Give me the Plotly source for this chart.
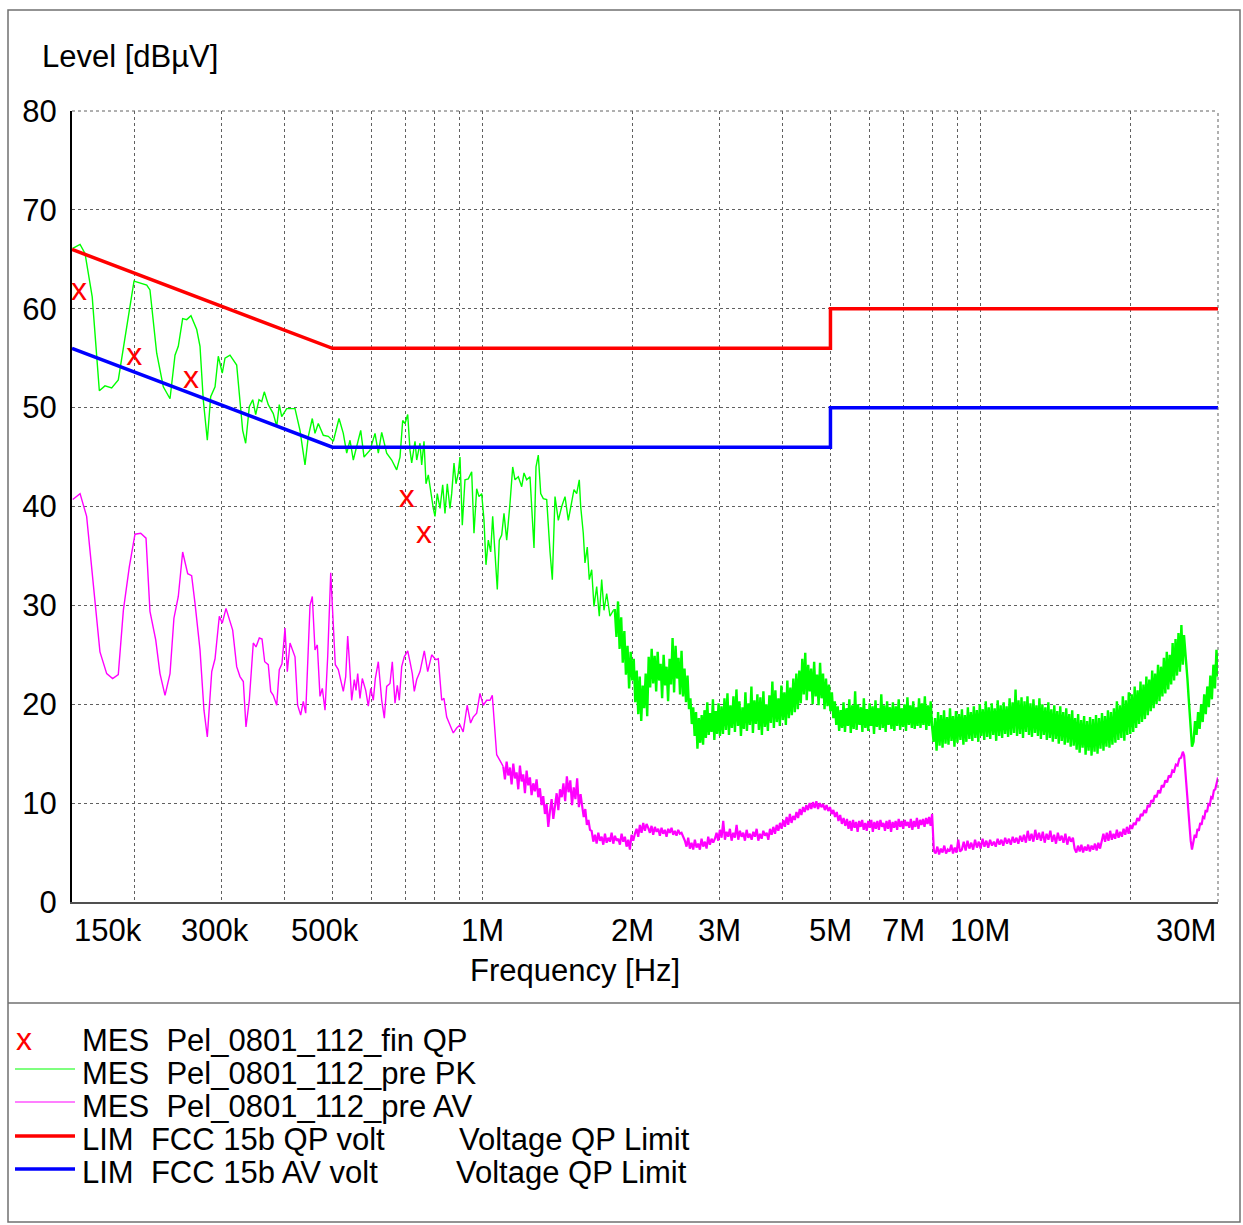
import numpy as np
import plotly.graph_objects as go

# ---------------- DATA ----------------
# Peak (PK) pre-scan, low-frequency part: frequency [kHz] / level [dBuV]
pk_lf_khz = [150.5,155.7,159.3,164.7,170.2,174.7,180.2,185.8,199.8,207.0,
             211.9,215.1,221.9,228.8,236.0,241.5,245.2,250.2,254.9,260.0,
             267.0,271.1,275.2,280.4,284.8,290.6,295.0,300.5,304.3,311.4,
             321.2,330.2,334.8,340.5,345.9,350.7,356.1,360.6,364.9,371.7,
             380.4,386.5,391.1,395.5,404.7,420.6,430.4,440.5,447.3,455.6,
             461.3,468.4,479.4,490.6,502.1,515.5,525.8,534.2,542.4,550.7,
             559.5,569.9,578.7,594.9,608.9,618.2,628.0,642.6,657.7,673.0,
             683.4,692.0,699.4,708.2,715.7,721.4,732.5,738.3,749.6,755.5,
             763.6,770.7,778.9,787.6,797.1,803.4,812.0,822.2,832.5,841.4,
             850.4,861.1,867.9,877.2,885.3,894.8,901.8,911.5,922.9,937.1,
             951.9,962.1,974.2,984.6,997.0,1007.7,1017.0,1027.9,1039.4,1049.0,
             1060.2,1071.6,1081.5,1093.6,1105.3,1119.2,1136.4,1150.7,1163.0,1180.9,
             1199.6,1212.4,1227.6,1246.5,1269.8,1281.6,1295.3,1309.8,1325.6,1346.6,
             1367.4,1382.0,1399.3,1420.9,1443.4,1465.6,1487.9,1511.5,1527.6,1546.8,
             1565.5,1575.7,1594.7,1607.3,1624.5,1639.6,1657.9,1675.6,1696.7,1717.2,
             1736.3,1754.9,1776.9,1804.3,1832.0]
pk_lf_level = [66.1,66.5,65.6,61.2,51.7,52.2,52.0,52.8,62.8,62.6,
               62.4,61.9,55.5,52.1,50.9,55.3,56.2,59.0,58.9,59.3,
               57.9,56.2,50.8,46.7,51.1,52.1,55.2,53.5,55.0,55.3,
               54.3,47.7,46.4,50.1,50.8,49.3,50.8,50.6,51.6,50.3,
               49.4,48.1,50.3,49.1,49.9,49.9,47.7,44.2,47.1,48.9,
               47.4,48.4,47.2,47.1,46.6,48.9,47.4,45.4,46.7,44.7,
               46.0,47.7,45.0,45.7,47.4,45.4,47.5,45.4,44.7,43.7,
               45.0,48.7,48.4,49.3,45.7,44.4,46.6,44.7,46.4,44.2,
               46.6,42.3,43.2,41.3,39.8,39.0,41.3,39.8,42.2,39.3,
               42.3,39.8,41.3,44.4,42.3,43.4,45.0,38.1,42.7,42.8,
               43.5,37.3,41.8,41.0,41.3,38.6,34.1,36.6,35.4,39.0,
               35.3,31.6,36.6,37.1,39.3,36.6,40.3,44.0,42.7,43.0,
               42.0,43.4,42.7,43.0,35.8,44.0,45.2,41.3,40.8,40.7,
               35.4,32.6,41.0,38.6,40.0,41.0,38.6,40.3,41.7,41.3,
               42.7,40.0,37.3,34.3,35.9,32.6,33.6,29.9,31.9,28.9,
               32.6,29.5,31.2,28.9,29.5]

# PK dense sweep: segment edges [kHz] and the levels read inside each segment
pk_seg_edges_khz = [1832, 2000, 2600, 3000, 4300, 5000, 8000, 20000, 25500, 26600, 30000]
pk_seg_1 = [29.5,26.8,30.4,25.6,28.8,24.2,27.4,23.0,25.9,21.6,25.3,22.4]
pk_seg_2 = [24.6,20.2,23.4,19.0,22.8,18.3,21.9,19.6,23.1,18.8,24.8,21.7,25.6,22.1,24.9,21.3,
            25.3,22.4,24.1,20.6,25.0,21.9,23.8,20.3,24.6,22.0,26.7,21.2,25.9,22.6,24.7,21.0,
            25.4,20.8,23.6,20.2,22.9,19.5]
pk_seg_3 = [20.6,18.0,19.7,16.8,19.2,15.5,18.6,16.1,18.9,15.9,19.4,16.6,20.2,16.9,19.1,17.2,
            20.5,16.4,19.3,17.0,20.1,16.8]
pk_seg_4 = [19.8,17.0,20.6,17.4,21.1,16.9,19.9,17.6,20.8,17.2,21.5,17.8,20.3,16.8,19.7,17.5,
            21.2,17.3,20.1,17.9,21.8,17.1,20.4,18.0,21.0,17.4,20.7,16.9,21.3,17.7,20.0,17.3,
            20.9,18.1,22.3,17.6,21.4,18.2,20.6,17.8,21.9,18.4,21.2,17.9,22.4,18.6,21.7,18.9,
            22.6,19.2,23.1,19.5]
pk_seg_5 = [23.4,20.1,24.6,21.0,25.2,20.4,24.0,21.3,23.6,20.0,24.3,20.8,23.0,19.9,24.2,20.6,
            23.1,19.5,22.6,19.8,22.0,19.3]
pk_seg_6 = [21.2,18.6,20.3,17.9,19.8,17.3,19.4,17.6,20.2,17.2,19.6,17.8,20.5,17.1,19.9,17.5,
            21.3,17.4,20.0,17.9,19.7,17.2,20.6,17.6,19.5,17.3,20.1,17.8,19.8,17.0,20.4,17.7,
            19.6,17.4,21.0,17.6,19.9,17.2,20.3,17.9,19.7,17.5,20.2,17.3,19.8,17.8,20.5,17.4,
            19.6,17.7,20.0,17.3,20.7,17.9,19.9,17.6,20.3,17.5,19.7,17.8,20.6,17.6,20.1,17.9,
            20.8,17.4,19.9,17.8,20.3,17.7]
pk_seg_7 = [16.2,18.6,15.3,19.2,15.8,18.9,15.6,19.4,16.0,18.7,15.9,19.6,16.3,18.8,15.7,19.3,
            16.1,19.0,16.4,19.5,15.9,18.9,16.2,19.7,16.5,
            19.2,16.3,19.8,16.6,19.4,16.2,20.0,16.8,19.5,16.4,20.3,16.7,19.7,16.5,20.1,16.9,
            19.6,16.3,20.4,16.8,19.9,16.6,20.2,17.0,19.8,16.7,
            20.6,16.9,20.2,17.1,21.5,16.8,20.4,17.0,20.7,16.6,20.3,17.2,20.8,16.9,20.1,16.7,
            20.5,17.1,19.9,16.8,20.6,16.5,20.0,16.9,
            19.7,16.4,20.2,16.6,19.5,16.2,19.9,16.5,19.3,16.0,19.8,16.3,19.2,15.9,19.6,16.1,
            19.0,15.7,19.4,15.8,
            18.6,15.4,19.0,15.1,18.4,15.6,18.8,14.9,18.3,15.3,18.7,14.8,18.5,15.2,18.9,15.0,
            18.6,15.5,19.1,15.3,18.8,15.7,19.4,15.6,19.2,15.9,
            19.6,16.1,20.3,16.4,19.9,16.6,20.8,16.3,20.4,16.9,21.2,17.0]
pk_seg_8 = [21.0,17.2,21.8,17.6,21.4,18.0,22.3,18.2,22.0,18.5,22.8,18.9,22.5,19.3,23.4,19.6,
            23.1,20.0,24.0,20.3,23.8,20.8,24.7,21.1,25.3,21.5,25.0,22.0,26.2,22.4,26.6,22.9,
            27.2,23.3,28.0,24.0]
pk_seg_9 = [27.0,25.8,24.2,22.6,20.8,18.9,17.2,15.7]
pk_seg_10 = [16.2,18.3,16.9,19.2,17.5,20.0,18.2,21.0,19.0,21.8,19.7,22.9,20.5,24.0,21.6,25.5,22.8]
pk_seg_levels = [pk_seg_1, pk_seg_2, pk_seg_3, pk_seg_4, pk_seg_5, pk_seg_6,
                 pk_seg_7, pk_seg_8, pk_seg_9, pk_seg_10]

# Average (AV) pre-scan, low-frequency part
av_lf_khz = [150.5,155.7,160.5,165.5,170.7,176.1,181.0,185.8,190.2,195.5,
             200.7,206.1,211.2,215.1,220.9,225.3,230.6,236.0,240.3,245.2,
             250.2,256.1,260.8,264.9,271.1,276.1,280.4,286.2,290.6,296.4,
             300.5,305.7,311.4,315.3,321.2,326.1,331.2,335.3,340.5,346.8,
             351.2,356.6,361.1,365.6,371.7,375.9,380.4,386.5,391.1,396.0,
             401.6,405.9,411.0,420.6,425.7,431.8,437.0,441.9,450.8,455.6,
             461.3,466.3,472.1,477.2,483.2,489.2,496.1,502.1,506.7,513.8,
             525.8,531.7,536.6,540.6,546.6,553.3,557.6,562.0,568.0,574.1,
             583.2,590.3,596.9,604.1,609.7,618.2,628.0,635.6,642.6,652.5,
             659.5,667.8,674.9,681.2,688.8,697.1,708.2,715.7,723.4,730.1,
             738.3,749.6,764.7,776.8,791.3,806.0,815.8,828.7,837.5,848.0,
             858.3,874.3,888.2,901.8,915.2,932.3,947.1,958.6,974.2,989.2,
             1004.4,1020.3,1036.0,1047.1,1068.6,1101.7]
av_lf_level = [40.7,41.3,39.0,31.9,25.3,23.1,22.6,23.0,29.5,33.9,
               37.2,37.3,36.8,29.4,26.5,23.1,20.9,23.1,28.7,30.9,
               35.4,33.2,33.0,30.2,25.5,19.4,16.7,23.3,24.6,28.9,
               28.2,29.7,28.4,27.5,23.8,22.8,22.3,17.7,20.4,26.2,
               25.8,26.7,26.6,24.3,24.0,21.3,20.9,19.9,23.5,24.1,
               27.7,23.3,26.2,24.8,19.9,18.9,20.3,19.1,30.0,30.9,
               25.5,26.0,20.8,21.6,19.4,24.8,33.3,27.5,24.0,23.5,
               21.3,22.8,26.9,24.5,20.4,22.5,21.4,23.1,20.6,22.6,
               21.4,19.8,21.6,20.4,22.6,24.3,20.4,18.6,21.8,22.1,
               24.3,20.1,21.9,20.4,23.8,24.8,25.4,24.3,23.1,21.3,
               22.5,23.3,25.4,23.3,25.0,24.5,24.6,20.4,20.6,18.7,
               18.1,17.1,17.6,17.9,17.2,19.9,18.1,18.7,19.1,21.1,
               19.9,20.4,20.4,20.9,14.9,13.7]

av_seg_edges_khz = [1101.7, 1305, 1432, 1575, 1645, 2009, 2531, 2908, 3960, 4611, 5397,
                    8000, 9100, 15340, 17390, 20000, 25500, 26600, 30000]
av_seg_1 = [12.4,14.2,12.8,13.6,11.9,14.0,12.5,13.1,11.4,13.8,12.2,12.9,11.0,13.3,11.8,12.6,
            10.8,12.0,11.2,12.4,10.6,11.5]
av_seg_2 = [9.8,10.7,8.9,9.9,7.6,9.2,10.4,8.4,9.6,11.0,9.3,11.4]
av_seg_3 = [10.6,12.0,10.2,12.7,11.1,12.3,9.8,11.6,10.4,12.5,9.6,10.9]
av_seg_4 = [9.7,8.6,9.4,7.8,8.3,7.3]
av_seg_5 = [7.2,6.1,6.8,5.9,7.0,6.2,6.6,5.8,6.9,6.0,6.5,6.1,7.0,5.9,6.7,6.2,6.4,5.8,6.9,6.1,
            6.6,5.6,6.3,5.3,6.8,6.2]
av_seg_6 = [6.9,7.4,6.6,7.8,7.0,8.0,7.2,7.9,7.5,7.0,7.7,6.8,7.6,7.1,7.4,6.7,7.5,6.9,7.3,6.6,
            7.4,7.0,7.5,6.8,7.2,6.7,7.3,6.9,7.0,6.6]
av_seg_7 = [6.2,5.6,6.5,5.4,6.0,5.3,6.3,5.5,5.9,5.3,6.4,5.6,6.1,5.4,6.6,5.8,6.4,6.0]
av_seg_8 = [6.4,7.0,6.2,7.3,6.5,8.2,6.3,7.1,6.6,7.4,6.2,7.0,6.5,7.8,6.3,7.2,6.6,7.0,6.2,7.3,
            6.5,6.9,6.3,7.1,6.6,7.4,6.2,6.9,6.4,7.2,6.7,7.0,6.3,7.4,6.8,7.6,6.9,7.8,7.2,8.0]
av_seg_9 = [7.4,8.3,7.6,8.6,7.8,8.9,8.0,8.7,8.3,9.1,8.5,9.4,8.8,9.6,9.1,9.8,9.3,10.0,9.4,10.1]
av_seg_10 = [9.5,10.2,9.4,10.0,9.6,9.9,9.3,9.8,9.2,9.6,8.9,9.3,8.6,9.1,8.2,8.8,7.9,8.5,7.7,8.4]
av_seg_11 = [7.4,8.2,7.2,8.3,7.5,8.1,7.1,8.2,7.6,8.3,7.3,8.0,7.2,8.2,7.5,8.3,7.1,8.1,7.4,8.2,
             7.3,8.3,7.6,8.0,7.2,8.2,7.4,8.3,7.1,8.1,7.5,8.2,7.3,8.4,7.6,8.2,7.4,8.3,7.7,8.1,
             7.5,8.4,7.3,8.2,7.6,8.5,7.4,8.3,7.8,8.4,7.6,8.5,7.9,8.6,7.7,8.9]
av_seg_12 = [5.2,4.9,5.6,4.8,5.4,5.0,5.7,4.9,5.3,5.1,5.8,4.9,5.5,5.0,6.3,5.1]
av_seg_13 = [5.3,6.1,5.2,6.2,5.4,6.0,5.3,6.3,5.5,6.1,5.4,6.4,5.6,6.2,5.5,6.3,5.7,6.1,5.6,6.4,
             5.8,6.3,5.7,6.5,5.9,6.4,5.8,6.6,6.0,6.5,5.9,6.7,6.1,6.8,6.0,7.2,6.2,6.9,6.1,7.3,
             6.3,7.0,6.2,7.1,6.0,6.9,6.3,7.2,6.1,6.8,5.9,7.0,6.2,6.7,6.0,6.9,5.8,6.6,6.1,6.5]
av_seg_14 = [5.4,5.0,5.7,5.1,5.8,5.0,5.6,5.2,5.8,5.1,5.7,5.3,5.9,5.2,6.0,5.4]
av_seg_15 = [6.3,6.9,6.1,7.0,6.2,7.2,6.3,6.9,6.4,7.3,6.5,7.1,6.6,7.4,6.8,7.6,6.9,7.8]
av_seg_16 = [7.4,8.0,7.8,8.5,8.2,8.9,8.7,9.3,9.0,9.8,9.6,10.3,10.1,10.8,10.6,11.3,11.0,11.8,
             11.6,12.3,12.1,12.8,12.6,13.3,13.2,13.9,13.8,14.5,14.6,15.2]
av_seg_17 = [14.8,13.0,11.0,9.2,7.5,6.2,5.3]
av_seg_18 = [6.0,6.8,6.5,7.4,7.2,8.0,7.8,8.6,8.5,9.3,9.1,9.9,9.8,10.6,10.5,11.3,11.4,12.2,12.6]
av_seg_levels = [av_seg_1, av_seg_2, av_seg_3, av_seg_4, av_seg_5, av_seg_6, av_seg_7,
                 av_seg_8, av_seg_9, av_seg_10, av_seg_11, av_seg_12, av_seg_13, av_seg_14,
                 av_seg_15, av_seg_16, av_seg_17, av_seg_18]

# Final quasi-peak measurements
qp_khz = [155, 200, 260, 705, 764]
qp_level = [61.7, 55.1, 52.8, 40.8, 37.1]

# FCC 15b limits
lim_khz = [150, 500, 5000, 5000, 30000]
lim_qp = [66, 56, 56, 60, 60]
lim_av = [56, 46, 46, 50, 50]

# Axis
y_ticks = [0, 10, 20, 30, 40, 50, 60, 70, 80]
grid_khz = [200, 300, 400, 500, 600, 700, 800, 900, 1000, 2000, 3000, 4000, 5000,
            6000, 7000, 8000, 9000, 10000, 20000, 30000]
x_label_khz = [150, 300, 500, 1000, 2000, 3000, 5000, 7000, 10000, 30000]
x_label_txt = ["150k", "300k", "500k", "1M", "2M", "3M", "5M", "7M", "10M", "30M"]

legend_labels = ["MES\u00a0\u00a0Pel_0801_112_fin QP",
                 "MES\u00a0\u00a0Pel_0801_112_pre PK",
                 "MES\u00a0\u00a0Pel_0801_112_pre AV",
                 "LIM\u00a0\u00a0FCC 15b QP volt",
                 "LIM\u00a0\u00a0FCC 15b AV volt"]
legend_extra = ["", "", "", "Voltage QP Limit", "Voltage QP Limit"]


# ---------------- BUILD ----------------
def build_dense(edges, segs):
    f, v = [], []
    for i, lv in enumerate(segs):
        fs = np.geomspace(edges[i], edges[i + 1], len(lv) + 1)[1:]
        f.extend(fs.tolist())
        v.extend(lv)
    return f, v


pk_d_f, pk_d_v = build_dense(pk_seg_edges_khz, pk_seg_levels)
av_d_f, av_d_v = build_dense(av_seg_edges_khz, av_seg_levels)

W, H = 1243, 1225
PL, PR, PT, PB = 72, 1218, 111, 902
FONT = "Liberation Sans, Arial, sans-serif"
FS = 31


def px(x):
    return (x - PL) / (PR - PL)


def py(y):
    return (PB - y) / (PB - PT)


GREEN = "#00ff00"
MAGENTA = "#ff00ff"
RED = "#ff0000"
BLUE = "#0000ff"
khz = lambda a: np.array(a) * 1e3

fig = go.Figure()
# AV trace: thin at low frequencies, denser sweep further up
fig.add_trace(go.Scatter(x=khz(av_lf_khz), y=av_lf_level, mode="lines",
                         line=dict(color=MAGENTA, width=1.4), showlegend=False))
fig.add_trace(go.Scatter(x=khz([av_lf_khz[-1]] + av_d_f), y=[av_lf_level[-1]] + av_d_v,
                         mode="lines", line=dict(color=MAGENTA, width=2.2), showlegend=False))
# PK trace
fig.add_trace(go.Scatter(x=khz(pk_lf_khz), y=pk_lf_level, mode="lines",
                         line=dict(color=GREEN, width=1.4), showlegend=False))
fig.add_trace(go.Scatter(x=khz([pk_lf_khz[-1]] + pk_d_f), y=[pk_lf_level[-1]] + pk_d_v,
                         mode="lines", line=dict(color=GREEN, width=2.4), showlegend=False))
# Limits
fig.add_trace(go.Scatter(x=khz(lim_khz), y=lim_qp, mode="lines",
                         line=dict(color=RED, width=3.5), showlegend=False))
fig.add_trace(go.Scatter(x=khz(lim_khz), y=lim_av, mode="lines",
                         line=dict(color=BLUE, width=3.5), showlegend=False))
# QP final points
fig.add_trace(go.Scatter(x=khz(qp_khz), y=qp_level, mode="text",
                         text=["x"] * len(qp_khz), textposition="middle center",
                         textfont=dict(color=RED, size=32, family=FONT),
                         showlegend=False))

annotations = []
for fk, t in zip(x_label_khz, x_label_txt):
    anchor = "center"
    shift = 0
    if fk == 150:
        anchor = "left"
    elif fk == 30000:
        anchor = "right"
    elif t.endswith("k"):
        shift = -7
    annotations.append(dict(x=np.log10(fk * 1e3), y=py(930), xref="x", yref="paper",
                            text=t, showarrow=False, xanchor=anchor, yanchor="middle",
                            xshift=shift, font=dict(size=FS, family=FONT, color="black")))

annotations.append(dict(x=px(575), y=py(970), xref="paper", yref="paper",
                        text="Frequency [Hz]", showarrow=False, xanchor="center",
                        yanchor="middle", font=dict(size=FS, family=FONT, color="black")))
annotations.append(dict(x=px(40), y=py(57), xref="paper", yref="paper",
                        text="Level [dB\u00b5V]", showarrow=False, xanchor="left",
                        yanchor="middle", font=dict(size=FS, family=FONT, color="black")))

row_y = [1040, 1073, 1106, 1139, 1172]
extra_x = [0, 0, 0, 457, 454]
for i, lab in enumerate(legend_labels):
    annotations.append(dict(x=px(80), y=py(row_y[i]), xref="paper", yref="paper",
                            text=lab, showarrow=False, xanchor="left", yanchor="middle",
                            font=dict(size=FS, family=FONT, color="black")))
    if legend_extra[i]:
        annotations.append(dict(x=px(extra_x[i]), y=py(row_y[i]), xref="paper", yref="paper",
                                text=legend_extra[i], showarrow=False, xanchor="left",
                                yanchor="middle", font=dict(size=FS, family=FONT, color="black")))
annotations.append(dict(x=px(24), y=py(1039), xref="paper", yref="paper", text="x",
                        showarrow=False, xanchor="center", yanchor="middle",
                        font=dict(size=32, family=FONT, color=RED)))

shapes = [
    dict(type="rect", xref="paper", yref="paper", x0=px(8), x1=px(1240), y0=py(10), y1=py(1222),
         line=dict(color="#707070", width=1.5)),
    dict(type="line", xref="paper", yref="paper", x0=px(8), x1=px(1240), y0=py(1003), y1=py(1003),
         line=dict(color="#707070", width=1.5)),
    # dotted top and right frame of the plot area
    dict(type="line", xref="paper", yref="paper", x0=0, x1=1, y0=1, y1=1,
         line=dict(color="#606060", width=1, dash="dot")),
    dict(type="line", xref="paper", yref="paper", x0=1, x1=1, y0=0, y1=1,
         line=dict(color="#606060", width=1, dash="dot")),
]
sample = [(1069, GREEN, 1.2), (1102, MAGENTA, 1.2), (1136, RED, 3.5), (1169, BLUE, 3.5)]
for yy, col, wd in sample:
    shapes.append(dict(type="line", xref="paper", yref="paper", x0=px(15), x1=px(75),
                       y0=py(yy), y1=py(yy), line=dict(color=col, width=wd)))

fig.update_layout(
    width=W, height=H,
    margin=dict(l=PL, r=W - PR, t=PT, b=H - PB),
    paper_bgcolor="white", plot_bgcolor="white",
    showlegend=False,
    annotations=annotations,
    shapes=shapes,
    font=dict(family=FONT, size=FS, color="black"),
)
fig.update_xaxes(type="log", range=[np.log10(150e3), np.log10(30e6)],
                 tickvals=[f * 1e3 for f in grid_khz], showticklabels=False, ticks="",
                 showgrid=True, gridcolor="#606060", griddash="dot", gridwidth=1,
                 showline=True, linecolor="#505050", linewidth=1.5, zeroline=False)
fig.update_yaxes(range=[0, 80], tickvals=y_ticks, ticks="", ticklabelstandoff=7,
                 tickfont=dict(size=FS, family=FONT, color="black"),
                 showgrid=True, gridcolor="#606060", griddash="dot", gridwidth=1,
                 showline=True, linecolor="black", linewidth=2, zeroline=False)

fig.write_html("out.html", config={"displayModeBar": False},
               post_script="document.body.style.margin='0px';document.body.style.overflow='hidden';")
